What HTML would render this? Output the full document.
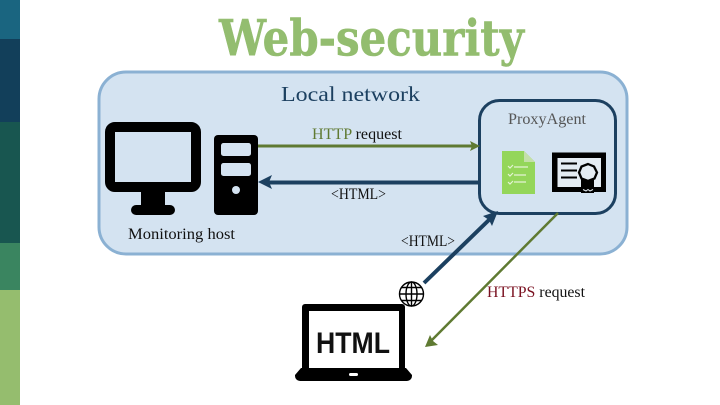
<!DOCTYPE html>
<html><head><meta charset="utf-8"><style>html,body{margin:0;padding:0;background:#fff;overflow:hidden}svg{display:block}
text{font-family:"Liberation Serif",serif;font-size:16px;fill:#111}</style></head><body>
<svg width="720" height="405" viewBox="0 0 720 405" xmlns="http://www.w3.org/2000/svg">
<rect width="720" height="405" fill="#fff"/>
<rect x="0" y="0" width="20" height="39" fill="#1a6580"/>
<rect x="0" y="39" width="20" height="83" fill="#123f5a"/>
<rect x="0" y="122" width="20" height="121" fill="#185650"/>
<rect x="0" y="243" width="20" height="47" fill="#3a8560"/>
<rect x="0" y="290" width="20" height="115" fill="#95bd6e"/>
<text x="219" y="55.500" textLength="305" lengthAdjust="spacingAndGlyphs" style="font-family:'DejaVu Serif','Liberation Serif',serif;font-weight:bold;font-size:50px;fill:#93bd6f;stroke:#93bd6f;stroke-width:0.600px">Web-security</text>
<rect x="99" y="72" width="528" height="182" rx="27" fill="#d4e3f1" stroke="#8bb1d3" stroke-width="3"/>
<text x="281" y="101" textLength="139" lengthAdjust="spacingAndGlyphs" style="font-size:21px;fill:#1c4060">Local network</text>
<rect x="479.500" y="100.500" width="136" height="113" rx="20" fill="#d4e3f1" stroke="#1c4060" stroke-width="3"/>
<text x="508" y="124" textLength="78" lengthAdjust="spacingAndGlyphs" style="font-size:16px;fill:#555">ProxyAgent</text>
<!-- monitor -->
<rect x="110" y="127" width="86" height="60" rx="5" fill="none" stroke="#000" stroke-width="10"/>
<rect x="141" y="191" width="24" height="16" fill="#000"/>
<rect x="131" y="205" width="44" height="10" rx="5" fill="#000"/>
<!-- tower -->
<rect x="214" y="135" width="44" height="80" rx="4" fill="#000"/>
<rect x="221" y="143" width="30" height="13" rx="2.500" fill="#d4e3f1"/>
<rect x="221" y="163" width="30" height="13" rx="2.500" fill="#d4e3f1"/>
<circle cx="236" cy="190" r="4" fill="#d4e3f1"/>
<text x="128" y="239" textLength="107" lengthAdjust="spacingAndGlyphs">Monitoring host</text>
<!-- arrows -->
<line x1="258" y1="146" x2="474" y2="146" stroke="#5f7a32" stroke-width="3"/>
<polygon points="480,146 470,141 472,146 470,151" fill="#5f7a32"/>
<line x1="268" y1="182.500" x2="479" y2="182.500" stroke="#1c4060" stroke-width="4"/>
<polygon points="258,182 272,175 269,182 272,189" fill="#1c4060"/>
<line x1="424" y1="283" x2="492" y2="217" stroke="#1c4060" stroke-width="4"/>
<polygon points="498,211 483,216 489,220 492,226" fill="#1c4060"/>
<line x1="558" y1="213" x2="430" y2="342" stroke="#5f7a32" stroke-width="2.500"/>
<polygon points="425,347 430,335 433,341 438,345" fill="#5f7a32"/>
<text x="312" y="139" textLength="90" lengthAdjust="spacingAndGlyphs"><tspan style="fill:#5f7a32">HTTP</tspan> request</text>
<text x="331" y="199" textLength="55" lengthAdjust="spacingAndGlyphs">&lt;HTML&gt;</text>
<text x="401" y="246" textLength="54" lengthAdjust="spacingAndGlyphs">&lt;HTML&gt;</text>
<text x="487" y="297" textLength="98" lengthAdjust="spacingAndGlyphs"><tspan style="fill:#7a1020">HTTPS</tspan> request</text>
<!-- doc -->
<path d="M502 151H524L535 162V194H502Z" fill="#94d65a"/>
<path d="M524 151L535 162H524Z" fill="#c4e0a8"/>
<g stroke="#e4f4d4" stroke-width="1.200" fill="none">
<path d="M508 166l2 2 3-3M514 167h14M508 174l2 2 3-3M514 175h12M508 182l2 2 3-3M514 182h12"/>
</g>
<!-- certificate -->
<rect x="552" y="152.500" width="54" height="39.500" fill="#000"/>
<rect x="557.500" y="158" width="43.500" height="29" fill="#e4ecf3"/>
<g stroke="#000" stroke-width="2"><path d="M561 163.500h16M561 170.500h16M561 177.500h16"/></g>
<path d="M581 176h13v17h-13Z" fill="#000"/>
<path d="M583 189.500l3 1.500 2-1.500 2 1.500 3-1.500" stroke="#e4ecf3" stroke-width="1" fill="none"/>
<polygon points="588,164 594,166.500 597,172.500 594.500,178.500 588,181 581.500,178.500 579,172.500 581.500,166.500" fill="#e4ecf3" stroke="#000" stroke-width="2.300"/>
<!-- globe -->
<g fill="#fff" stroke="#000" stroke-width="1.400">
<circle cx="411.500" cy="294" r="12"/>
<ellipse cx="411.500" cy="294" rx="5.500" ry="12" fill="none"/>
<path d="M411.500 282v24M399.500 294h24M401.500 287.500h20M401.500 300.500h20" fill="none"/>
</g>
<!-- laptop -->
<rect x="302" y="304" width="103" height="68" rx="3" fill="#000"/>
<rect x="309" y="311" width="90" height="57" fill="#fff"/>
<path d="M301 368H406L412 375V376A5 5 0 0 1 407 381H300A5 5 0 0 1 295 376V375Z" fill="#000"/>
<rect x="349" y="373" width="9" height="3" rx="1.500" fill="#fff"/>
<text x="316" y="353" textLength="74" lengthAdjust="spacingAndGlyphs" style="font-family:'Liberation Sans',sans-serif;font-weight:bold;font-size:30px;fill:#111">HTML</text>
</svg>
</body></html>
